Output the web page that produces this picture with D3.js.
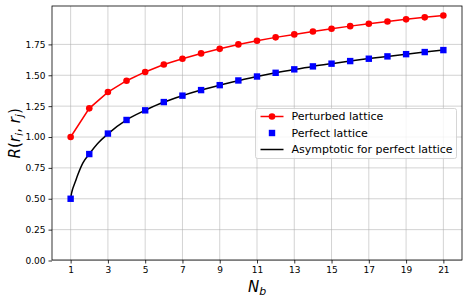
<!DOCTYPE html>
<html lang="en">
<head>
  <meta charset="UTF-8">
  <title>R vs N_b</title>
  <script src="https://d3js.org/d3.v7.min.js"></script>
  <style>
    body { margin:0; background:#fff; }
    svg { display:block; font-family:'DejaVu Sans', sans-serif; }
  </style>
</head>
<body>
  <svg width="469" height="300"></svg>
  <script>
    const nb = d3.range(1, 22)
    const perturbed = [1.00, 1.232, 1.364, 1.456, 1.527, 1.587, 1.634, 1.677, 1.714, 1.750,
      1.780, 1.807, 1.831, 1.855, 1.877, 1.898, 1.917, 1.936, 1.953, 1.969, 1.984]
    const perfect = [0.50, 0.862, 1.028, 1.138, 1.216, 1.283, 1.335, 1.380, 1.420, 1.458,
      1.490, 1.520, 1.548, 1.572, 1.594, 1.615, 1.634, 1.653, 1.671, 1.688, 1.704]
    // asymptotic curve
    const asymN = [1, 1.05, 1.1, 1.22, 1.4, 1.66, 2, 2.5, 3, 4, 5, 6, 7, 8, 9, 10, 11, 12, 13,
      14, 15, 16, 17, 18, 19, 20, 21]
    const asymR = [0.50, 0.545, 0.575, 0.625, 0.70, 0.79, 0.862, 0.955, 1.025, 1.138, 1.216,
      1.283, 1.335, 1.380, 1.420, 1.456, 1.490, 1.520, 1.547, 1.572, 1.594, 1.615, 1.635,
      1.653, 1.671, 1.688, 1.704]
    const xTicks = [1, 3, 5, 7, 9, 11, 13, 15, 17, 19, 21]
    const yTicks = [0, 0.25, 0.5, 0.75, 1.0, 1.25, 1.5, 1.75]
    const legendLabels = ['Perturbed lattice', 'Perfect lattice', 'Asymptotic for perfect lattice']

    const margin = {top: 6, right: 7, bottom: 40, left: 52}
    const width = 469
    const height = 300
    const svg = d3.select('svg')

    const x = d3.scaleLinear().domain([0, 22]).range([margin.left, width - margin.right])
    const y = d3.scaleLinear().domain([0, 2.061]).range([height - margin.bottom + 0.5, margin.top])

    // grid
    svg.append('g').selectAll('line').data(xTicks).enter().append('line')
      .attr('x1', d => x(d)).attr('x2', d => x(d))
      .attr('y1', margin.top).attr('y2', height - margin.bottom)
      .attr('stroke', '#b0b0b0').attr('stroke-opacity', 0.7).attr('stroke-width', 0.8)
    svg.append('g').selectAll('line').data(yTicks).enter().append('line')
      .attr('y1', d => y(d)).attr('y2', d => y(d))
      .attr('x1', margin.left).attr('x2', width - margin.right)
      .attr('stroke', '#b0b0b0').attr('stroke-opacity', 0.7).attr('stroke-width', 0.8)

    // axes
    const xAxis = d3.axisBottom(x).tickValues(xTicks).tickSize(3.5).tickPadding(3.5)
    const yAxis = d3.axisLeft(y).tickValues(yTicks).tickSize(3.5).tickPadding(3)
      .tickFormat(d3.format('.2f'))
    const gx = svg.append('g').attr('transform', 'translate(0,' + (height - margin.bottom) + ')').call(xAxis)
    const gy = svg.append('g').attr('transform', 'translate(' + margin.left + ',0)').call(yAxis)
    ;[gx, gy].forEach(g => {
      g.select('.domain').remove()
      g.selectAll('text').attr('font-size', 9).attr('fill', '#000').attr('font-family', 'DejaVu Sans')
      g.selectAll('line').attr('stroke', '#000').attr('stroke-width', 0.8)
    })

    // curves
    const asym = asymN.map((n, i) => [n, asymR[i]])
    svg.append('path').datum(asym)
      .attr('d', d3.line().x(d => x(d[0])).y(d => y(d[1])).curve(d3.curveMonotoneX))
      .attr('fill', 'none').attr('stroke', '#000').attr('stroke-width', 1.5)

    const red = nb.map((n, i) => [n, perturbed[i]])
    svg.append('path').datum(red)
      .attr('d', d3.line().x(d => x(d[0])).y(d => y(d[1])))
      .attr('fill', 'none').attr('stroke', 'red').attr('stroke-width', 1.5)
    svg.append('g').selectAll('circle').data(red).enter().append('circle')
      .attr('cx', d => x(d[0])).attr('cy', d => y(d[1])).attr('r', 3.3).attr('fill', 'red')

    const blue = nb.map((n, i) => [n, perfect[i]])
    svg.append('g').selectAll('rect').data(blue).enter().append('rect')
      .attr('x', d => x(d[0]) - 3.2).attr('y', d => y(d[1]) - 3.2)
      .attr('width', 6.4).attr('height', 6.4).attr('fill', 'blue')

    // frame
    svg.append('rect')
      .attr('x', margin.left).attr('y', margin.top)
      .attr('width', width - margin.left - margin.right)
      .attr('height', height - margin.top - margin.bottom)
      .attr('fill', 'none').attr('stroke', '#000').attr('stroke-width', 0.8)

    // legend
    const lg = svg.append('g').attr('transform', 'translate(255.5,108.5)')
    lg.append('rect').attr('width', 201).attr('height', 50).attr('rx', 2)
      .attr('fill', 'white').attr('fill-opacity', 0.8).attr('stroke', '#ccc').attr('stroke-width', 0.8)
    legendLabels.forEach((t, i) => {
      const yy = 8 + i * 16.5
      const row = lg.append('g').attr('transform', 'translate(0,' + yy + ')')
      if (i === 0) {
        row.append('line').attr('x1', 5).attr('x2', 28).attr('stroke', 'red').attr('stroke-width', 1.5)
        row.append('circle').attr('cx', 16.5).attr('r', 3.3).attr('fill', 'red')
      } else if (i === 1) {
        row.append('rect').attr('x', 13.3).attr('y', -3.2).attr('width', 6.4).attr('height', 6.4).attr('fill', 'blue')
      } else {
        row.append('line').attr('x1', 5).attr('x2', 28).attr('stroke', '#000').attr('stroke-width', 1.5)
      }
      row.append('text').attr('x', 36).attr('dy', '0.35em').attr('font-size', 11).text(t)
    })

    // axis labels
    const xl = svg.append('text').attr('x', x(11)).attr('y', 292)
      .attr('text-anchor', 'middle').attr('font-size', 15).attr('font-family', 'DejaVu Sans')
    xl.append('tspan').attr('font-style', 'italic').text('N')
    xl.append('tspan').attr('font-style', 'italic').attr('font-size', 11).attr('dy', 3).text('b')

    const yl = svg.append('text').attr('transform', 'translate(20,' + y(1.03) + ') rotate(-90)')
      .attr('text-anchor', 'middle').attr('font-size', 15).attr('font-family', 'DejaVu Sans')
    yl.append('tspan').attr('font-style', 'italic').text('R')
    yl.append('tspan').text('(')
    yl.append('tspan').attr('font-style', 'italic').text('r')
    yl.append('tspan').attr('font-style', 'italic').attr('font-size', 11).attr('dy', 3).text('i')
    yl.append('tspan').attr('dy', -3).text(', ')
    yl.append('tspan').attr('font-style', 'italic').text('r')
    yl.append('tspan').attr('font-style', 'italic').attr('font-size', 11).attr('dy', 3).text('j')
    yl.append('tspan').attr('dy', -3).text(')')
  </script>
</body>
</html>
